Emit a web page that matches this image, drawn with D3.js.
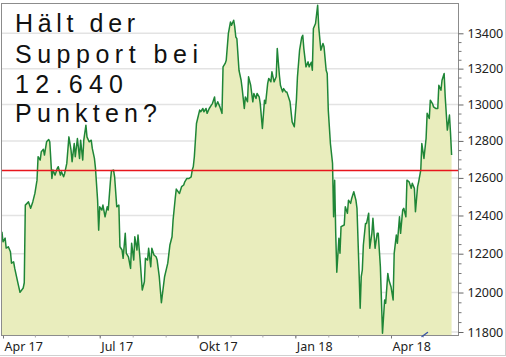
<!DOCTYPE html>
<html>
<head>
<meta charset="utf-8">
<script src="https://cdn.jsdelivr.net/npm/d3@7"></script>
<style>
  html, body { margin: 0; padding: 0; background: #fff; }
  svg { display: block; }
</style>
</head>
<body>
<svg id="chart" width="506" height="357"></svg>
<script>
// Index closing levels, April 2017 – May 2018
const dates = [
  "2017-03-31","2017-04-01","2017-04-03","2017-04-04","2017-04-06","2017-04-08","2017-04-09","2017-04-11","2017-04-12","2017-04-15",
  "2017-04-17","2017-04-20","2017-04-21","2017-04-22","2017-04-25","2017-04-27","2017-04-29","2017-05-01","2017-05-03","2017-05-04",
  "2017-05-06","2017-05-07","2017-05-09","2017-05-10","2017-05-12","2017-05-14","2017-05-15","2017-05-17","2017-05-18","2017-05-20",
  "2017-05-22","2017-05-23","2017-05-25","2017-05-26","2017-05-28","2017-05-29","2017-05-31","2017-06-02","2017-06-04","2017-06-05",
  "2017-06-07","2017-06-08","2017-06-10","2017-06-12","2017-06-13","2017-06-15","2017-06-16","2017-06-18","2017-06-19","2017-06-21",
  "2017-06-23","2017-06-24","2017-06-26","2017-06-27","2017-06-29","2017-06-30","2017-07-01","2017-07-03","2017-07-04","2017-07-06",
  "2017-07-08","2017-07-09","2017-07-11","2017-07-12","2017-07-14","2017-07-15","2017-07-17","2017-07-19","2017-07-20","2017-07-22",
  "2017-07-23","2017-07-25","2017-07-26","2017-07-28","2017-07-30","2017-07-31","2017-08-02","2017-08-03","2017-08-05","2017-08-06",
  "2017-08-08","2017-08-10","2017-08-12","2017-08-13","2017-08-15","2017-08-16","2017-08-18","2017-08-19","2017-08-21","2017-08-23",
  "2017-08-24","2017-08-26","2017-08-28","2017-08-31","2017-09-03","2017-09-05","2017-09-07","2017-09-08","2017-09-10","2017-09-11",
  "2017-09-14","2017-09-16","2017-09-18","2017-09-19","2017-09-21","2017-09-23","2017-09-25","2017-09-26","2017-09-27","2017-09-28",
  "2017-09-29","2017-09-30","2017-10-03","2017-10-04","2017-10-06","2017-10-07","2017-10-09","2017-10-10","2017-10-12","2017-10-14",
  "2017-10-15","2017-10-17","2017-10-18","2017-10-20","2017-10-22","2017-10-24","2017-10-25","2017-10-27","2017-10-28","2017-10-30",
  "2017-11-01","2017-11-02","2017-11-04","2017-11-05","2017-11-06","2017-11-07","2017-11-09","2017-11-11","2017-11-12","2017-11-14",
  "2017-11-15","2017-11-17","2017-11-18","2017-11-20","2017-11-22","2017-11-23","2017-11-25","2017-11-26","2017-11-28","2017-11-29",
  "2017-12-01","2017-12-03","2017-12-04","2017-12-06","2017-12-07","2017-12-09","2017-12-10","2017-12-12","2017-12-14","2017-12-15",
  "2017-12-17","2017-12-18","2017-12-20","2017-12-21","2017-12-23","2017-12-24","2017-12-27","2017-12-29","2017-12-31","2018-01-02",
  "2018-01-03","2018-01-05","2018-01-07","2018-01-08","2018-01-09","2018-01-11","2018-01-13","2018-01-14","2018-01-16","2018-01-17",
  "2018-01-18","2018-01-20","2018-01-22","2018-01-23","2018-01-25","2018-01-27","2018-01-28","2018-01-30","2018-01-31","2018-02-01",
  "2018-02-03","2018-02-05","2018-02-06","2018-02-07","2018-02-08","2018-02-09","2018-02-11","2018-02-12","2018-02-13","2018-02-16",
  "2018-02-17","2018-02-19","2018-02-20","2018-02-22","2018-02-23","2018-02-25","2018-02-27","2018-02-28","2018-03-02","2018-03-03",
  "2018-03-04","2018-03-05","2018-03-06","2018-03-08","2018-03-09","2018-03-11","2018-03-12","2018-03-14","2018-03-15","2018-03-17",
  "2018-03-19","2018-03-20","2018-03-22","2018-03-23","2018-03-24","2018-03-26","2018-03-27","2018-03-29","2018-03-30","2018-04-01",
  "2018-04-03","2018-04-04","2018-04-06","2018-04-07","2018-04-09","2018-04-10","2018-04-12","2018-04-13","2018-04-15","2018-04-16",
  "2018-04-18","2018-04-20","2018-04-21","2018-04-23","2018-04-24","2018-04-26","2018-04-27","2018-04-29","2018-04-30","2018-05-02",
  "2018-05-04","2018-05-05","2018-05-07","2018-05-08","2018-05-10","2018-05-11","2018-05-13","2018-05-15","2018-05-16","2018-05-18",
  "2018-05-19","2018-05-21","2018-05-22","2018-05-24","2018-05-26","2018-05-27","2018-05-28"
];

const values = [
  12314,12262,12281,12229,12236,12210,12151,12158,12125,12049,
  12001,12023,12050,12455,12472,12438,12472,12517,12588,12714,
  12696,12741,12754,12723,12795,12808,12795,12597,12642,12615,
  12651,12660,12615,12633,12606,12624,12678,12822,12750,12687,
  12786,12714,12813,12705,12804,12696,12804,12886,12822,12795,
  12804,12759,12705,12651,12481,12323,12446,12429,12455,12393,
  12446,12429,12579,12638,12642,12606,12446,12455,12236,12219,
  12176,12306,12202,12184,12124,12254,12167,12288,12219,12297,
  12167,12013,12055,12176,12167,12228,12132,12228,12193,12184,
  12167,12081,11948,12081,12151,12245,12288,12376,12490,12540,
  12517,12553,12562,12579,12597,12597,12606,12642,12660,12714,
  12804,12895,12969,12960,12978,12960,12978,12951,12978,12996,
  13005,13042,12987,13015,12987,12951,13210,13229,13247,13398,
  13465,13446,13475,13437,13379,13370,13191,13135,13088,12978,
  13042,13015,13154,13107,13015,13061,13033,13061,13042,13005,
  12868,13024,13005,13117,13145,13126,13182,13126,13154,13313,
  13163,13107,13070,13088,13070,13070,13015,12904,12877,13024,
  13154,13304,13377,13389,13313,13210,13238,13210,13236,13191,
  13427,13456,13561,13437,13304,13342,13323,13191,13173,12969,
  12786,12678,12393,12588,12306,12104,12280,12202,12341,12350,
  12446,12412,12481,12464,12490,12526,12481,12438,12098,11920,
  12081,12115,12245,12358,12358,12412,12228,12306,12385,12228,
  12306,12306,12132,11962,11794,11962,11945,12098,12064,12030,
  11962,12202,12297,12254,12393,12306,12429,12438,12393,12588,
  12579,12544,12571,12544,12420,12553,12579,12642,12786,12705,
  12813,12951,12923,13024,13005,12987,12978,12978,13107,13079,
  13135,13173,13042,12859,12942,12841,12723
];

const yTicks = [11800, 12000, 12200, 12400, 12600, 12800, 13000, 13200, 13400];
const xTickDates = ["2017-04-01", "2017-07-01", "2017-10-01", "2018-01-01", "2018-04-01"];
const xTickLabels = ["Apr 17", "Jul 17", "Okt 17", "Jan 18", "Apr 18"];
const supportLevel = 12640;
const titleLines = ["Hält der", "Support bei", "12.640", "Punkten?"];

// ---- layout ----
const plot = { left: 2, top: 4, right: 458, bottom: 335 };
const parse = d3.utcParse("%Y-%m-%d");
const series = dates.map((d, i) => ({ date: parse(d), value: values[i] }));

const x = d3.scaleUtc()
  .domain([parse("2017-04-01"), parse("2018-04-01")])
  .range([3, 391]);
const y = d3.scaleLog()
  .domain([11800, 13400])
  .range([332, 33.3]);

const svg = d3.select("#chart");

svg.append("defs").append("clipPath").attr("id", "plotClip")
  .append("rect")
  .attr("x", plot.left).attr("y", plot.top)
  .attr("width", plot.right - plot.left).attr("height", plot.bottom - plot.top);

// outer border
svg.append("line").attr("x1", 0).attr("x2", 506).attr("y1", 355.5).attr("y2", 355.5)
  .attr("stroke", "#d0d0d0").attr("stroke-width", 1);
svg.append("line").attr("x1", 505.5).attr("x2", 505.5).attr("y1", 0).attr("y2", 356)
  .attr("stroke", "#d0d0d0").attr("stroke-width", 1);

// horizontal grid
svg.append("g")
  .selectAll("line")
  .data(yTicks)
  .join("line")
  .attr("x1", plot.left).attr("x2", plot.right)
  .attr("y1", d => y(d)).attr("y2", d => y(d))
  .attr("stroke", "#e3e3e3").attr("stroke-width", 1.5);

const g = svg.append("g").attr("clip-path", "url(#plotClip)");

// filled area under the price line
g.append("path")
  .datum(series)
  .attr("fill", "#e9edbd")
  .attr("d", d3.area()
    .x(d => x(d.date))
    .y0(plot.bottom)
    .y1(d => y(d.value)));

g.append("path")
  .datum(series)
  .attr("fill", "none")
  .attr("stroke", "#1f8637")
  .attr("stroke-width", 1.5)
  .attr("stroke-linejoin", "round")
  .attr("d", d3.line()
    .x(d => x(d.date))
    .y(d => y(d.value)));

// support level
svg.append("line")
  .attr("x1", plot.left).attr("x2", plot.right)
  .attr("y1", y(supportLevel)).attr("y2", y(supportLevel))
  .attr("stroke", "#e8161c").attr("stroke-width", 1.6);

// plot frame
svg.append("rect")
  .attr("x", plot.left - 0.5).attr("y", plot.top - 0.5)
  .attr("width", plot.right - plot.left + 1).attr("height", plot.bottom - plot.top + 1)
  .attr("fill", "none").attr("stroke", "#8c8c8c").attr("stroke-width", 1);

// right value axis: labelled ticks plus minor ticks every 50 points
const minorTicks = d3.range(11800, 13401, 50).filter(v => !yTicks.includes(v));
const yAxisMinor = svg.append("g")
  .attr("transform", `translate(${plot.right + 0.5},0)`)
  .call(d3.axisRight(y).tickValues(minorTicks).tickSize(3).tickFormat(""));
yAxisMinor.select(".domain").remove();
yAxisMinor.selectAll("line").attr("stroke", "#777");

const yAxis = svg.append("g")
  .attr("transform", `translate(${plot.right + 0.5},0)`)
  .call(d3.axisRight(y).tickValues(yTicks).tickSize(5).tickPadding(4).tickFormat(d3.format("d")));
yAxis.select(".domain").remove();
yAxis.selectAll("line").attr("stroke", "#666");
yAxis.selectAll("text")
  .attr("fill", "#222")
  .style("font-family", "'Noto Sans', 'Open Sans', sans-serif")
  .style("font-size", "12.5px");

// bottom time axis: monthly minor ticks, quarterly labels
const monthTicks = d3.utcMonth.range(parse("2017-04-01"), parse("2018-06-01"));
const xAxisMinor = svg.append("g")
  .attr("transform", `translate(0,${plot.bottom + 0.5})`)
  .call(d3.axisBottom(x).tickValues(monthTicks).tickSize(2).tickFormat(""));
xAxisMinor.select(".domain").remove();
xAxisMinor.selectAll("line").attr("stroke", "#aaa");

const xAxis = svg.append("g")
  .attr("transform", `translate(0,${plot.bottom + 0.5})`)
  .call(d3.axisBottom(x)
    .tickValues(xTickDates.map(parse))
    .tickSize(3)
    .tickFormat((d, i) => xTickLabels[i]));
xAxis.select(".domain").remove();
xAxis.selectAll("line").attr("stroke", "#777");
xAxis.selectAll("text")
  .attr("text-anchor", "start")
  .attr("x", 1)
  .attr("y", 15)
  .attr("dy", 0)
  .attr("fill", "#222")
  .style("font-family", "'Noto Sans', 'Open Sans', sans-serif")
  .style("font-size", "12.5px");

// small pen stroke near the lower axis
svg.append("line")
  .attr("x1", 422).attr("y1", 336.5).attr("x2", 427.5).attr("y2", 332.5)
  .attr("stroke", "#3a55a8").attr("stroke-width", 1.4).attr("stroke-linecap", "round");

// handwritten-style headline, widened with letter spacing
const titleBaselines = [32, 62.5, 93, 121.7];
const titleWidths = [120, 183, 108, 142];
svg.append("g")
  .selectAll("text")
  .data(titleLines)
  .join("text")
  .attr("x", 15)
  .attr("y", (d, i) => titleBaselines[i])
  .attr("textLength", (d, i) => titleWidths[i])
  .attr("lengthAdjust", "spacing")
  .attr("fill", "#111")
  .style("font-family", "'Liberation Sans', Arial, sans-serif")
  .style("font-size", "25px")
  .text(d => d);
</script>
</body>
</html>
